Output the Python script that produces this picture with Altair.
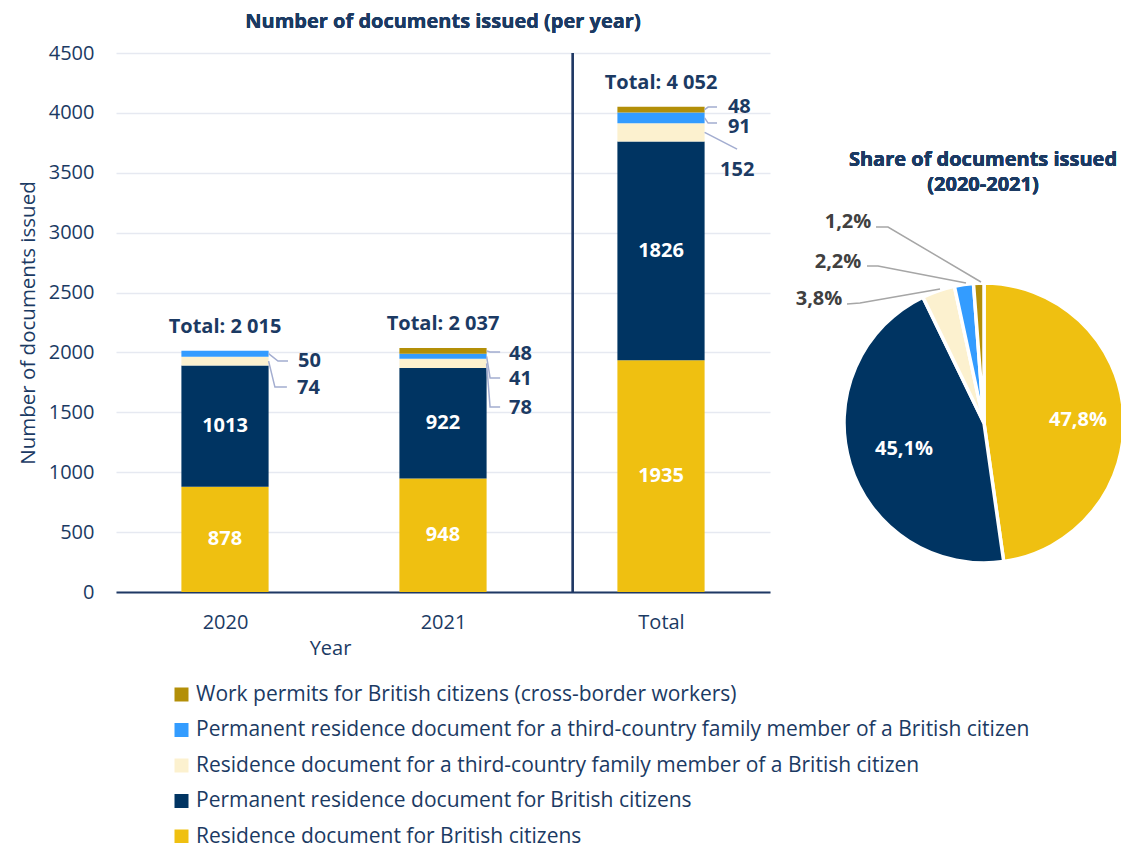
import altair as alt
import pandas as pd

FONT = "Open Sans"
NAVY_TXT = "#1B3A63"

# ---------------- data ----------------
categories = [
    "Residence document for British citizens",
    "Permanent residence document for British citizens",
    "Residence document for a third-country family member of a British citizen",
    "Permanent residence document for a third-country family member of a British citizen",
    "Work permits for British citizens (cross-border workers)",
]
colors = ["#EFC011", "#003462", "#FCF1CF", "#339CFF", "#B38F08"]

years = ["2020", "2021", "Total"]
vals_2020 = [878, 1013, 74, 50, 0]
vals_2021 = [948, 922, 78, 41, 48]
vals_total = [1935, 1826, 152, 91, 48]
totals = [2015, 2037, 4052]
total_labels = ["Total: 2 015", "Total: 2 037", "Total: 4 052"]

# outside labels of small segments (year index, text, label y in data units, label x in data units)
out_year = [0, 0, 1, 1, 1, 2, 2, 2]
out_text = ["50", "74", "48", "41", "78", "48", "91", "152"]
out_y = [1928, 1700, 1987, 1778, 1536, 4049, 3882, 3523]
out_x = [0.335, 0.330, 1.303, 1.303, 1.303, 2.307, 2.307, 2.271]

# leader lines of the bar labels (points in data units)
lead_id = [0, 0, 0, 1, 1, 1, 2, 2, 2, 3, 3, 3, 4, 4, 4, 5, 5, 5, 6, 6, 6, 7, 7]
lead_x = [0.200, 0.243, 0.289, 0.200, 0.229, 0.284,
          1.200, 1.216, 1.262, 1.200, 1.216, 1.262, 1.200, 1.216, 1.262,
          2.200, 2.216, 2.257, 2.200, 2.216, 2.257, 2.200, 2.349]
lead_y = [1990, 1928, 1928, 1928, 1711, 1711,
          2013, 2004, 2004, 1968, 1787, 1787, 1909, 1544, 1544,
          4028, 4049, 4049, 3958, 3915, 3915, 3837, 3698]

# pie (label positions: offsets, relative to the pie's centre)
pie_share = [47.8, 45.1, 3.8, 2.2, 1.2]
pie_text = ["47,8%", "45,1%", "3,8%", "2,2%", "1,2%"]
pie_lab_x = [90, -84, -169, -150, -140]
pie_lab_y = [3, -26, 124, 161, 201]
pie_lab_color = ["white", "white", "#404040", "#404040", "#404040"]
pie_lead_id = [0, 0, 0, 1, 1, 1, 2, 2, 2]
pie_lead_x = [-141, -128, -48, -121, -110, -22, -112, -100, -7]
pie_lead_y = [119, 120, 134, 157, 157, 140, 196, 196, 141]
pie_title_lines = ["Share of documents issued", "(2020-2021)"]

# ---------------- tables ----------------
rows = []
for yi, vals in enumerate([vals_2020, vals_2021, vals_total]):
    for ci, v in enumerate(vals):
        rows.append({"yi": yi, "year": years[yi], "cat": categories[ci], "ord": ci, "value": v})
bars_df = pd.DataFrame(rows)

tot_df = pd.DataFrame({"yi": list(range(3)), "total": totals, "label": total_labels})
out_df = pd.DataFrame({"yi": out_year, "text": out_text, "ly": out_y, "lx": out_x})
lead_df = pd.DataFrame({"id": lead_id, "x": lead_x, "y": lead_y, "k": list(range(len(lead_id)))})

pie_df = pd.DataFrame({"cat": categories, "share": pie_share, "ord": list(range(5))})
pie_lab_df = pd.DataFrame({"text": pie_text, "x": pie_lab_x, "y": pie_lab_y, "c": pie_lab_color})
pie_lead_df = pd.DataFrame({"id": pie_lead_id, "x": pie_lead_x, "y": pie_lead_y,
                            "k": list(range(len(pie_lead_id)))})

legend_order = list(reversed(categories))
color_scale = alt.Scale(domain=legend_order, range=list(reversed(colors)))

W, H = 654, 539
xsc = alt.Scale(domain=[-0.5, 2.5], nice=False, zero=False)
ysc = alt.Scale(domain=[0, 4500], nice=False)

base = alt.Chart(bars_df)

bars = base.transform_stack(
    stack="value", groupby=["yi"], as_=["y0", "y1"], sort=[alt.SortField("ord")]
).transform_calculate(
    xa="datum.yi - 0.2", xb="datum.yi + 0.2"
).mark_bar(stroke=None).encode(
    x=alt.X("xa:Q", scale=xsc, title="Year",
            axis=alt.Axis(values=[0, 1, 2], labelExpr="['2020','2021','Total'][datum.value]",
                          grid=False, ticks=False, domainColor="#1F3864", domainWidth=2,
                          labelFont=FONT, labelFontSize=20, labelColor=NAVY_TXT, labelPadding=20,
                          titleFont=FONT, titleFontSize=20, titleColor=NAVY_TXT, titleFontWeight="normal",
                          titleX=214, titleY=56, titleAlign="center", titleBaseline="middle")),
    x2="xb:Q",
    y=alt.Y("y0:Q", scale=ysc, title="Number of documents issued",
            axis=alt.Axis(values=list(range(0, 4501, 500)), format="d", grid=True, gridColor="#E6E9F1",
                          gridWidth=1.5, domain=False, ticks=False,
                          labelFont=FONT, labelFontSize=20, labelColor=NAVY_TXT, labelPadding=22,
                          titleFont=FONT, titleFontSize=20.5, titleColor=NAVY_TXT, titleFontWeight="normal",
                          titlePadding=10)),
    y2="y1:Q",
    color=alt.Color("cat:N", scale=color_scale,
                    legend=alt.Legend(title=None, orient="none", legendX=55, legendY=631,
                                      symbolType="square", symbolSize=196, symbolStrokeWidth=0,
                                      labelFont=FONT, labelFontSize=21, labelColor=NAVY_TXT,
                                      labelLimit=1000, rowPadding=13.5, labelOffset=4)),
)

inner = base.transform_stack(
    stack="value", groupby=["yi"], as_=["y0", "y1"], sort=[alt.SortField("ord")]
).transform_filter("datum.value > 500").transform_calculate(
    ym="(datum.y0 + datum.y1) / 2"
).mark_text(font=FONT, fontSize=20, fontWeight="bold", color="white", baseline="middle").encode(
    x=alt.X("yi:Q", scale=xsc), y=alt.Y("ym:Q", scale=ysc), text=alt.Text("value:Q")
)

tot_text = alt.Chart(tot_df).mark_text(font=FONT, fontSize=20, fontWeight="bold", color=NAVY_TXT,
                                        baseline="middle", dy=-24).encode(
    x=alt.X("yi:Q", scale=xsc), y=alt.Y("total:Q", scale=ysc), text="label:N"
)

out_text_m = alt.Chart(out_df).mark_text(font=FONT, fontSize=20, fontWeight="bold", color=NAVY_TXT,
                                         baseline="middle", align="left").encode(
    x=alt.X("lx:Q", scale=xsc), y=alt.Y("ly:Q", scale=ysc), text="text:N"
)

leaders = alt.Chart(lead_df).mark_line(color="#A3ADD0", strokeWidth=1.5).encode(
    x=alt.X("x:Q", scale=xsc), y=alt.Y("y:Q", scale=ysc), detail="id:N", order="k:Q"
)

sep = alt.Chart(tot_df).mark_rule(color="#1F3864", strokeWidth=2).encode(
    x=alt.datum(1.595, scale=xsc), y=alt.datum(0, scale=ysc), y2=alt.datum(4500)
)

title_text = alt.Chart(tot_df).mark_text(font=FONT, fontSize=20, fontWeight="bold", color=NAVY_TXT,
                                          baseline="middle", dy=-31).encode(
    x=alt.datum(1.0, scale=xsc), y=alt.datum(4500, scale=ysc), text=alt.value("Number of documents issued (per year)")
)

left = alt.layer(bars, sep, leaders, inner, tot_text, out_text_m, title_text).properties(width=W, height=H)

# ---------------- pie ----------------
PW = 331
pxs = alt.Scale(domain=[-198, 133], nice=False, zero=False)
pys = alt.Scale(domain=[-169, 370], nice=False, zero=False)

arcs = alt.Chart(pie_df).mark_arc(radius=140, stroke="white", strokeWidth=3.5, clip=True).encode(
    theta=alt.Theta("share:Q", stack=True),
    order=alt.Order("ord:Q"),
    color=alt.Color("cat:N", scale=color_scale),
    x=alt.datum(-4, scale=pxs, axis=None),
    y=alt.datum(0, scale=pys, axis=None),
)

pie_leads = alt.Chart(pie_lead_df).mark_line(color="#A6A6A6", strokeWidth=1.5).encode(
    x=alt.X("x:Q", scale=pxs, axis=None), y=alt.Y("y:Q", scale=pys, axis=None),
    detail="id:N", order="k:Q"
)

pie_labels = alt.Chart(pie_lab_df).mark_text(font=FONT, fontSize=20, fontWeight="bold",
                                              baseline="middle").encode(
    x=alt.X("x:Q", scale=pxs, axis=None), y=alt.Y("y:Q", scale=pys, axis=None),
    text="text:N", color=alt.Color("c:N", scale=None)
)

pie_title = alt.Chart(pie_lab_df).mark_text(font=FONT, fontSize=20, fontWeight="bold", color=NAVY_TXT,
                                             baseline="middle", lineHeight=25).encode(
    x=alt.datum(-5, scale=pxs), y=alt.datum(263, scale=pys),
    text=alt.value(pie_title_lines)
)

right = alt.layer(arcs, pie_leads, pie_labels, pie_title).properties(width=PW, height=H)

chart = alt.hconcat(left, right, spacing=20, bounds="flush").resolve_scale(
    color="shared", x="independent", y="independent"
).properties(
    padding={"left": 10, "top": 4, "right": 0, "bottom": -4}
).configure_view(strokeWidth=0, stroke="transparent")

chart.save("out.html", embed_options={"renderer": "svg", "actions": False})
